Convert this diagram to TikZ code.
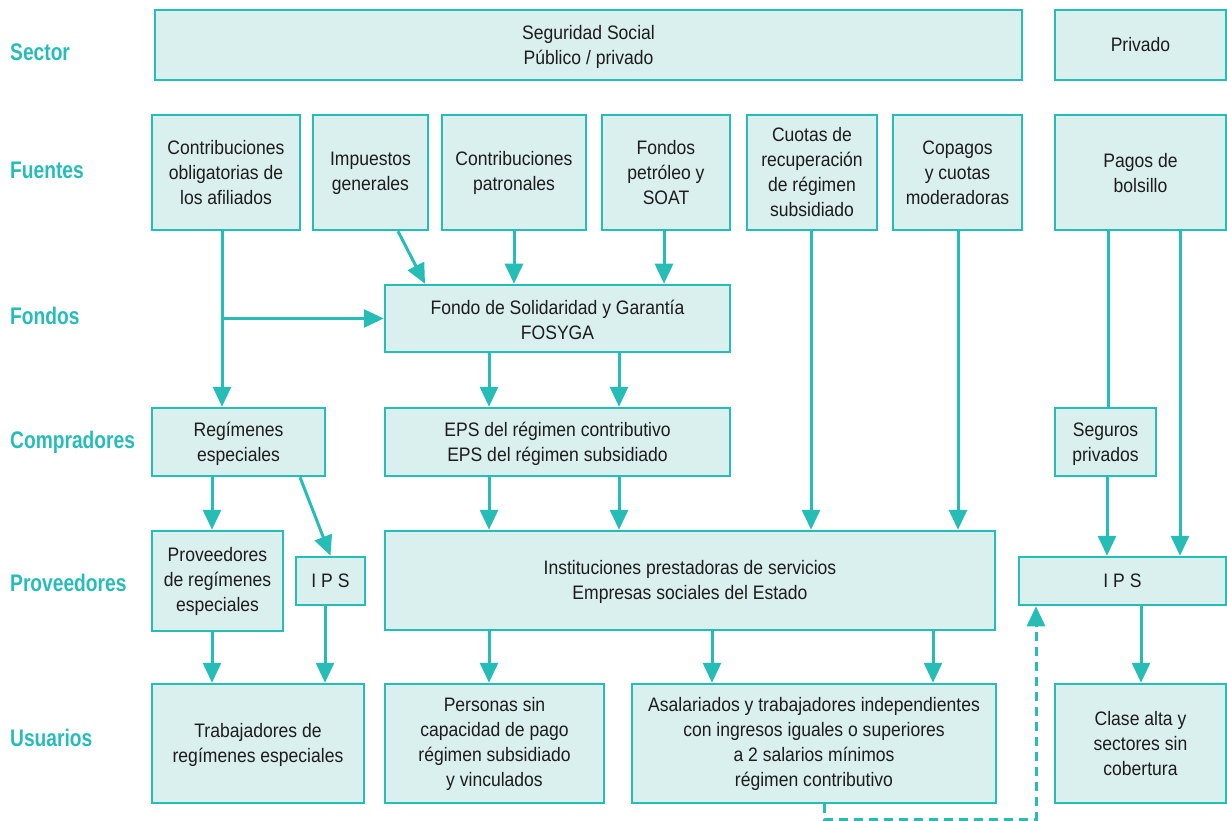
\documentclass[tikz,border=0pt]{standalone}
\usepackage{fontspec}
\setmainfont{Liberation Sans}[FakeStretch=0.9]
\newfontfamily\labfont{Liberation Sans}[FakeStretch=0.8]
\usetikzlibrary{arrows.meta,calc}
\definecolor{teal1}{HTML}{26BDB6}
\definecolor{fill1}{HTML}{DAF0EE}
\definecolor{ink}{HTML}{1E1B1C}
\begin{document}
\begin{tikzpicture}[x=1pt,y=-1pt,
  box/.style={draw=teal1,fill=fill1,line width=2.5pt,inner sep=0pt,align=center,
    text=ink,font=\fontsize{19.5}{25}\selectfont},
  rowlab/.style={anchor=west,text=teal1,font=\labfont\bfseries\fontsize{24}{28}\selectfont,inner sep=0pt},
  arr/.style={draw=teal1,line width=3pt,-{Triangle[width=18pt,length=20pt]}},
  ln/.style={draw=teal1,line width=3pt}]
\useasboundingbox (0,0) rectangle (1227,821);
% row labels
\node[rowlab] (lsec) at (10,52) {Sector};
\node[rowlab] (lfue) at (10,170) {Fuentes};
\node[rowlab] (lfon) at (10,316) {Fondos};
\node[rowlab] (lcom) at (10,442) {Compradores};
\node[rowlab] (lpro) at (10,583) {Proveedores};
\node[rowlab] (lusu) at (10,738) {Usuarios};
% sector
\node[box,minimum width=867pt,minimum height=70pt] (sec) at (588.5,45) {\rule{0pt}{18pt}Seguridad Social\\Público / privado};
\node[box,minimum width=171pt,minimum height=70pt] (priv) at (1140.5,45) {Privado};
% fuentes
\node[box,minimum width=148pt,minimum height=115pt] (f1) at (226,172.5) {Contribuciones\\obligatorias de\\los afiliados};
\node[box,minimum width=115pt,minimum height=115pt] (f2) at (370.5,172.5) {\rule{0pt}{16pt}Impuestos\\generales};
\node[box,minimum width=144pt,minimum height=115pt] (f3) at (514,172.5) {\rule{0pt}{16pt}Contribuciones\\patronales};
\node[box,minimum width=128pt,minimum height=115pt] (f4) at (666,172.5) {Fondos\\petróleo y\\SOAT};
\node[box,minimum width=130pt,minimum height=115pt] (f5) at (812,172.5) {Cuotas de\\recuperación\\de régimen\\subsidiado};
\node[box,minimum width=129pt,minimum height=115pt] (f6) at (957.5,172.5) {Copagos\\y cuotas\\moderadoras};
\node[box,minimum width=171pt,minimum height=115pt] (f7) at (1140.5,172.5) {\rule{0pt}{16pt}Pagos de\\bolsillo};
% fondos
\node[box,minimum width=345pt,minimum height=67pt] (fos) at (557.5,318.5) {\rule{0pt}{18pt}Fondo de Solidaridad y Garantía\\FOSYGA};
% compradores
\node[box,minimum width=173pt,minimum height=68pt] (reg) at (238.5,442) {\rule{0pt}{18pt}Regímenes\\especiales};
\node[box,minimum width=345pt,minimum height=68pt] (eps) at (557.5,442) {\rule{0pt}{18pt}EPS del régimen contributivo\\EPS del régimen subsidiado};
\node[box,minimum width=101pt,minimum height=68pt] (seg) at (1105.5,442) {\rule{0pt}{18pt}Seguros\\privados};
% proveedores
\node[box,minimum width=131pt,minimum height=100pt] (prov) at (217.5,581) {Proveedores\\de regímenes\\especiales};
\node[box,minimum width=69pt,minimum height=48pt] (ips1) at (330.5,581) {I P S};
\node[box,minimum width=610pt,minimum height=99pt] (inst) at (690,580.5) {\rule{0pt}{18pt}Instituciones prestadoras de servicios\\Empresas sociales del Estado};
\node[box,minimum width=207pt,minimum height=48pt] (ips2) at (1122.5,581) {I P S};
% usuarios
\node[box,minimum width=212pt,minimum height=119pt] (u1) at (258,743.5) {\rule{0pt}{18pt}Trabajadores de\\regímenes especiales};
\node[box,minimum width=219pt,minimum height=119pt] (u2) at (494.5,743.5) {Personas sin\\capacidad de pago\\régimen subsidiado\\y vinculados};
\node[box,minimum width=364pt,minimum height=119pt] (u3) at (814,743.5) {Asalariados y trabajadores independientes\\con ingresos iguales o superiores\\a 2 salarios mínimos\\régimen contributivo};
\node[box,minimum width=171pt,minimum height=119pt] (u4) at (1140.5,743.5) {Clase alta y\\sectores sin\\cobertura};
% connector anchors
\coordinate (a1) at ([xshift=-4pt]f1.south);
\coordinate (a2s) at ([xshift=27.5pt]f2.south);
\coordinate (a2e) at ([xshift=-132.5pt]fos.north);
\coordinate (a4) at ([xshift=-2pt]f4.south);
\coordinate (b1) at ([xshift=-68.5pt]fos.south);
\coordinate (b2) at ([xshift=61.5pt]fos.south);
\coordinate (a5) at ([xshift=-1pt]f5.south);
\coordinate (a6) at ([xshift=0.5pt]f6.south);
\coordinate (a7) at ([xshift=-32.5pt]f7.south);
\coordinate (a8) at ([xshift=39.5pt]f7.south);
\coordinate (c1) at ([xshift=1.5pt]seg.south);
\coordinate (c2) at ([xshift=-26.5pt]reg.south);
\coordinate (c3) at ([xshift=61.5pt]reg.south);
\coordinate (e1) at ([xshift=-68.5pt]eps.south);
\coordinate (e2) at ([xshift=61.5pt]eps.south);
\coordinate (p1) at ([xshift=-5.5pt]prov.south);
\coordinate (p2) at ([xshift=-5.5pt]ips1.south);
\coordinate (i1) at ([xshift=-201pt]inst.south);
\coordinate (i2) at ([xshift=22pt]inst.south);
\coordinate (i3) at ([xshift=243pt]inst.south);
\coordinate (i4) at ([xshift=18.5pt]ips2.south);
\coordinate (d1) at ([xshift=10pt]u3.south);
\coordinate (d2) at ([xshift=-86.5pt]ips2.south);
% connectors
\draw[arr] (a1) -- (a1 |- reg.north);
\draw[arr] (a1 |- fos.west) -- (fos.west);
\draw[arr] (a2s) -- (a2e);
\draw[arr] (f3.south) -- (f3.south |- fos.north);
\draw[arr] (a4) -- (a4 |- fos.north);
\draw[arr] (b1) -- (b1 |- eps.north);
\draw[arr] (b2) -- (b2 |- eps.north);
\draw[arr] (a5) -- (a5 |- inst.north);
\draw[arr] (a6) -- (a6 |- inst.north);
\draw[ln] (a7) -- (a7 |- seg.north);
\draw[arr] (a8) -- (a8 |- ips2.north);
\draw[arr] (c1) -- (c1 |- ips2.north);
\draw[arr] (c2) -- (c2 |- prov.north);
\draw[arr] (c3) -- (ips1.north);
\draw[arr] (e1) -- (e1 |- inst.north);
\draw[arr] (e2) -- (e2 |- inst.north);
\draw[arr] (p1) -- (p1 |- u1.north);
\draw[arr] (p2) -- (p2 |- u1.north);
\draw[arr] (i1) -- (i1 |- u2.north);
\draw[arr] (i2) -- (i2 |- u3.north);
\draw[arr] (i3) -- (i3 |- u3.north);
\draw[arr] (i4) -- (i4 |- u4.north);
\draw[arr,dash pattern=on 9pt off 6pt] (d1) -- ++(0,15) -| (d2);
\end{tikzpicture}
\end{document}
